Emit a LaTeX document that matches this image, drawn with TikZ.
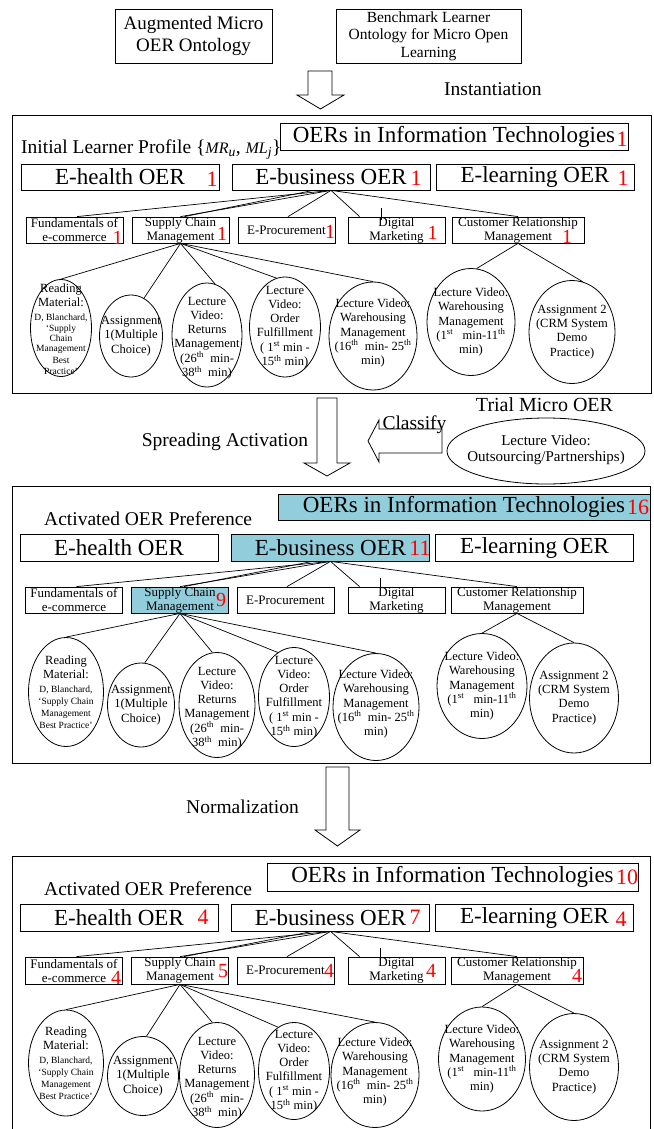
\documentclass[tikz,border=0pt]{standalone}
\usepackage{fontspec}
\setmainfont{Liberation Serif}
\usetikzlibrary{shapes.geometric,calc}
\definecolor{aqua}{RGB}{146,205,220}
\newcommand\rsm{\fontsize{9.5}{10.5}\selectfont}
\begin{document}
\begin{tikzpicture}[x=1pt,y=-1pt,
  bx/.style={draw, line width=0.8pt, inner sep=0pt, align=center},
  lvla/.style={bx, minimum width=198pt, minimum height=26pt, font=\fontsize{23}{26}\selectfont},
  lvlb/.style={bx, minimum width=97pt, minimum height=26pt, font=\fontsize{13}{14}\selectfont},
  oerbox/.style={bx, minimum height=27pt, font=\fontsize{23}{26}\selectfont},
  ell/.style={draw, ellipse, line width=0.8pt, inner sep=0pt},
  etxt/.style={inner sep=0pt, align=center, font=\fontsize{12.5}{14.3}\selectfont},
  rnum/.style={text=red, inner sep=0pt, font=\fontsize{20}{20}\selectfont},
  rbig/.style={text=red, inner sep=0pt, font=\fontsize{22}{22}\selectfont},
  lbl/.style={inner sep=0pt, font=\fontsize{19.5}{22}\selectfont},
  link/.style={line width=0.7pt},
  frame/.style={draw, line width=0.9pt, inner sep=0pt},
  blockarrow/.style={draw, line width=0.8pt, fill=white, line join=miter},
  hl/.style={fill=aqua}]
\useasboundingbox (0,0) rectangle (653,1129);
\fill[white] (0,0) rectangle (653,1129);

% ---------- top ----------
\node[bx, minimum width=157pt, minimum height=54pt, font=\fontsize{19}{22}\selectfont] (aug) at (193.5,36) {Augmented Micro\\OER Ontology};
\node[bx, minimum width=185pt, minimum height=54pt, font=\fontsize{15.5}{17.5}\selectfont] (bench) at (428.5,36) {Benchmark Learner\\Ontology for Micro Open\\Learning};
\draw[blockarrow] (308,71) -- (332,71) -- (332,95) -- (344,95) -- (320.5,109) -- (297,95) -- (308,95) -- cycle;
\node[lbl, anchor=west] (inst) at (444,89) {Instantiation};

% ---------- panel 1 ----------
\node[frame, minimum width=639pt, minimum height=278pt] (panela) at (331.5,254) {};
\node[oerbox, minimum width=348pt] (p1oer) at (454,136.5) {OERs in Information Technologies};
\node[rbig] (p1oern) at (622,139) {1};
\node[lbl, anchor=west] (p1title) at (21,150) {Initial Learner Profile \{{\fontsize{16}{18}\selectfont\itshape MR}\textsubscript{\itshape u}, {\fontsize{16}{18}\selectfont\itshape ML}\textsubscript{\itshape j}\}};
\node[lvla] (p1eh) at (120,177) {E-health OER};
\node[lvla] (p1eb) at (331,177) {E-business OER};
\node[lvla] (p1el) at (535,177) {E-learning OER};
\node[rbig] (p1ehn) at (212,179) {1};
\node[rbig] (p1ebn) at (416,178) {1};
\node[rbig] (p1eln) at (623,178) {1};
\node[lvlb] (p1fund) at (74.5,230) {Fundamentals of\\e-commerce};
\node[lvlb] (p1scm) at (180.5,230) {Supply Chain\\Management};
\node[lvlb] (p1proc) at (286.5,230) {E-Procurement};
\node[lvlb] (p1dig) at (396.5,230) {Digital\\Marketing};
\node[lvlb, minimum width=132pt] (p1crm) at (518,230) {Customer Relationship\\Management};
\node[rnum] (p1fundn) at (117.5,237.5) {1};
\node[rnum] (p1scmn) at (222,234) {1};
\node[rnum] (p1procn) at (330,232) {1};
\node[rnum] (p1dign) at (432.5,233) {1};
\node[rnum] (p1crmn) at (567,237) {1};
\draw[link] (p1eb.south) -- ($(p1fund.north)+(2.5,0)$);
\draw[link] (p1eb.south) -- (p1scm.north);
\draw[link] ($(p1eb.south)+(-18,0)$) -- ($(p1scm.north)+(4,0)$);
\draw[link] (p1eb.south) -- ($(p1proc.north)+(1.5,0)$);
\draw[link] (p1eb.south) -- ($(p1dig.north west)+(12,0)$);
\draw[link] (p1eb.south) -- (p1crm.north);
\coordinate (p1ta) at (381,208);
\coordinate (p1tb) at (381,220);
\draw[link] (p1ta) -- (p1tb);
\node[ell, minimum width=61pt, minimum height=97pt] (p1read) at (61,328) {};
\node[ell, minimum width=63pt, minimum height=82pt] (p1asg) at (131,336) {};
\node[ell, minimum width=70pt, minimum height=104pt] (p1ret) at (207,335) {};
\node[ell, minimum width=71pt, minimum height=100pt] (p1ord) at (285,327) {};
\node[ell, minimum width=88pt, minimum height=108pt] (p1wh) at (373,336) {};
\node[ell, minimum width=88pt, minimum height=107pt] (p1whb) at (471,322) {};
\node[ell, minimum width=86pt, minimum height=103pt] (p1asgb) at (572,332) {};
\node[etxt] (p1readt) at (61,329) {Reading\\Material:\\\rsm D, Blanchard,\\[-4pt]\rsm ‘Supply\\[-4pt]\rsm Chain\\[-4pt]\rsm Management\\[-3pt]\rsm Best\\[-3pt]\rsm Practice’};
\node[etxt] (p1asgt) at (131,336) {Assignment\\1(Multiple\\Choice)};
\node[etxt] (p1rett) at (207,338) {Lecture\\Video:\\Returns\\Management\\(26\textsuperscript{th}\ \ min-\\38\textsuperscript{th}\ \ min)};
\node[etxt] (p1ordt) at (285,327) {Lecture\\Video:\\Order\\Fulfillment\\( 1\textsuperscript{st} min -\\15\textsuperscript{th} min)};
\node[etxt] (p1wht) at (373,333) {Lecture Video:\\Warehousing\\Management\\(16\textsuperscript{th}\ \ min- 25\textsuperscript{th}\\min)};
\node[etxt] (p1whbt) at (471,322) {Lecture Video:\\Warehousing\\Management\\(1\textsuperscript{st}\ \ \ min-11\textsuperscript{th}\\min)};
\node[etxt] (p1asgbt) at (572,332) {Assignment 2\\(CRM System\\Demo\\Practice)};
\draw[link] (p1scm.south) -- (p1read.north);
\draw[link] (p1scm.south) -- (p1asg.71);
\draw[link] (p1scm.south) -- (p1ret.81);
\draw[link] (p1scm.south) -- (p1ord.100);
\draw[link] (p1scm.south) -- (p1wh.north);
\draw[link] (p1crm.south) -- (p1whb.84);
\draw[link] (p1crm.south) -- (p1asgb.78);

% ---------- spreading activation ----------
\draw[blockarrow] (317,398) -- (337,398) -- (337,463) -- (350,463) -- (327,476) -- (304,463) -- (317,463) -- cycle;
\node[lbl] (spread) at (225,442) {Spreading Activation};
\draw[blockarrow] (442,429) -- (442,453) -- (379,453) -- (379,462) -- (368,441) -- (379,420) -- (379,429) -- cycle;
\node[lbl] (classify) at (414.5,425) {Classify};
\node[lbl, font=\fontsize{20}{22}\selectfont] (trial) at (544.5,405) {Trial Micro OER};
\node[ell, minimum width=198pt, minimum height=66pt] (trialell) at (546,451) {};
\node[etxt, font=\fontsize{15}{16.5}\selectfont] (trialt) at (546,450) {Lecture Video:\\Outsourcing/Partnerships)};

% ---------- panel 2 ----------
\node[frame, minimum width=638pt, minimum height=277pt] (panelb) at (331,624.5) {};
\node[oerbox, hl, minimum width=372pt, minimum height=26pt] (p2oer) at (464,507) {OERs in Information Technologies};
\node[rbig] (p2oern) at (638,507) {16};
\node[lbl, anchor=west] (p2title) at (44,519) {Activated OER Preference};
\node[lvla, minimum height=27pt] (p2eh) at (119,547.5) {E-health OER};
\node[lvla, hl, minimum height=27pt] (p2eb) at (330.5,547.5) {E-business OER};
\node[lvla, minimum height=27pt] (p2el) at (534.5,547.5) {E-learning OER};
\node[rbig] (p2ebn) at (420,548) {11};
\node[lvlb] (p2fund) at (74,600) {Fundamentals of\\e-commerce};
\node[lvlb, hl] (p2scm) at (180,600) {Supply Chain\\Management};
\node[lvlb] (p2proc) at (285.5,600) {E-Procurement};
\node[lvlb] (p2dig) at (396.5,600) {Digital\\Marketing};
\node[lvlb, minimum width=132pt] (p2crm) at (517,600) {Customer Relationship\\Management};
\node[rnum] (p2scmn) at (221,600) {9};
\draw[link] (p2eb.south) -- ($(p2fund.north)+(2.5,0)$);
\draw[link] (p2eb.south) -- (p2scm.north);
\draw[link] ($(p2eb.south)+(-18,0)$) -- ($(p2scm.north)+(4,0)$);
\draw[link] (p2eb.south) -- ($(p2proc.north)+(1.5,0)$);
\draw[link] (p2eb.south) -- ($(p2dig.north west)+(12,0)$);
\draw[link] (p2eb.south) -- (p2crm.north);
\coordinate (p2ta) at (380,578);
\coordinate (p2tb) at (380,590);
\draw[link] (p2ta) -- (p2tb);
\node[ell, minimum width=75pt, minimum height=109pt] (p2read) at (66,692) {};
\node[ell, minimum width=67pt, minimum height=84pt] (p2asg) at (141,705) {};
\node[ell, minimum width=76pt, minimum height=105pt] (p2ret) at (217,705) {};
\node[ell, minimum width=71pt, minimum height=99pt] (p2ord) at (294,697) {};
\node[ell, minimum width=86pt, minimum height=107pt] (p2wh) at (376,707) {};
\node[ell, minimum width=90pt, minimum height=105pt] (p2whb) at (482,686) {};
\node[ell, minimum width=89pt, minimum height=110pt] (p2asgb) at (574,698) {};
\node[etxt] (p2readt) at (66,692) {Reading\\Material:\\\rsm D, Blanchard,\\[-2.5pt]\rsm ‘Supply Chain\\[-2.5pt]\rsm Management\\[-2.5pt]\rsm Best Practice’};
\node[etxt] (p2asgt) at (141,705) {Assignment\\1(Multiple\\Choice)};
\node[etxt] (p2rett) at (217,708) {Lecture\\Video:\\Returns\\Management\\(26\textsuperscript{th}\ \ min-\\38\textsuperscript{th}\ \ min)};
\node[etxt] (p2ordt) at (294,697) {Lecture\\Video:\\Order\\Fulfillment\\( 1\textsuperscript{st} min -\\15\textsuperscript{th} min)};
\node[etxt] (p2wht) at (376,704) {Lecture Video:\\Warehousing\\Management\\(16\textsuperscript{th}\ \ min- 25\textsuperscript{th}\\min)};
\node[etxt] (p2whbt) at (482,686) {Lecture Video:\\Warehousing\\Management\\(1\textsuperscript{st}\ \ \ min-11\textsuperscript{th}\\min)};
\node[etxt] (p2asgbt) at (574,698) {Assignment 2\\(CRM System\\Demo\\Practice)};
\draw[link] (p2scm.south) -- (p2read.north);
\draw[link] (p2scm.south) -- (p2asg.85);
\draw[link] (p2scm.south) -- (p2ret.95);
\draw[link] (p2scm.south) -- (p2ord.110);
\draw[link] (p2scm.south) -- (p2wh.north);
\draw[link] (p2crm.south) -- (p2whb.north);
\draw[link] (p2crm.south) -- (p2asgb.north);

% ---------- normalization ----------
\draw[blockarrow] (326,767) -- (349,767) -- (349,830) -- (360,830) -- (337.5,846) -- (315,830) -- (326,830) -- cycle;
\node[lbl] (norm) at (242.5,807) {Normalization};

% ---------- panel 3 ----------
\coordinate (p3bl) at (12,1131);
\coordinate (p3tl) at (12,856);
\coordinate (p3tr) at (650,856);
\coordinate (p3br) at (650,1131);
\draw[line width=0.9pt] (p3bl) -- (p3tl) -- (p3tr) -- (p3br);
\node[oerbox, minimum width=371pt, minimum height=28pt] (p3oer) at (452.5,877) {OERs in Information Technologies};
\node[rbig] (p3oern) at (627,877) {10};
\node[lbl, anchor=west] (p3title) at (44,889) {Activated OER Preference};
\node[lvla, minimum height=27pt] (p3eh) at (119,917.5) {E-health OER};
\node[lvla, minimum height=27pt] (p3eb) at (330.5,917.5) {E-business OER};
\node[lvla, minimum height=27pt] (p3el) at (534.5,917.5) {E-learning OER};
\node[rbig] (p3ehn) at (203,917) {4};
\node[rbig] (p3ebn) at (415,917) {7};
\node[rbig] (p3eln) at (621,919) {4};
\node[lvlb, minimum height=27pt] (p3fund) at (74,970.5) {Fundamentals of\\e-commerce};
\node[lvlb, minimum height=27pt] (p3scm) at (180,970.5) {Supply Chain\\Management};
\node[lvlb, minimum height=27pt] (p3proc) at (285.5,970.5) {E-Procurement};
\node[lvlb, minimum height=27pt] (p3dig) at (396.5,970.5) {Digital\\Marketing};
\node[lvlb, minimum width=132pt, minimum height=27pt] (p3crm) at (517,970.5) {Customer Relationship\\Management};
\node[rnum] (p3fundn) at (116,977.5) {4};
\node[rnum] (p3scmn) at (223,971) {5};
\node[rnum] (p3procn) at (329,971) {4};
\node[rnum] (p3dign) at (431,971) {4};
\node[rnum] (p3crmn) at (577,976) {4};
\draw[link] (p3eb.south) -- ($(p3fund.north)+(2.5,0)$);
\draw[link] (p3eb.south) -- (p3scm.north);
\draw[link] ($(p3eb.south)+(-18,0)$) -- ($(p3scm.north)+(4,0)$);
\draw[link] (p3eb.south) -- ($(p3proc.north)+(1.5,0)$);
\draw[link] (p3eb.south) -- ($(p3dig.north west)+(12,0)$);
\draw[link] (p3eb.south) -- (p3crm.north);
\coordinate (p3ta) at (380,948);
\coordinate (p3tb) at (380,960);
\draw[link] (p3ta) -- (p3tb);
\node[ell, minimum width=75pt, minimum height=106pt] (p3read) at (66,1063) {};
\node[ell, minimum width=71pt, minimum height=79pt] (p3asg) at (143,1076) {};
\node[ell, minimum width=75pt, minimum height=105pt] (p3ret) at (217,1075) {};
\node[ell, minimum width=71pt, minimum height=97pt] (p3ord) at (294,1071) {};
\node[ell, minimum width=88pt, minimum height=105pt] (p3wh) at (375,1075) {};
\node[ell, minimum width=87pt, minimum height=104pt] (p3whb) at (482,1059) {};
\node[ell, minimum width=89pt, minimum height=107pt] (p3asgb) at (574,1067) {};
\node[etxt] (p3readt) at (66,1063) {Reading\\Material:\\\rsm D, Blanchard,\\[-2.5pt]\rsm ‘Supply Chain\\[-2.5pt]\rsm Management\\[-2.5pt]\rsm Best Practice’};
\node[etxt] (p3asgt) at (143,1076) {Assignment\\1(Multiple\\Choice)};
\node[etxt] (p3rett) at (217,1078) {Lecture\\Video:\\Returns\\Management\\(26\textsuperscript{th}\ \ min-\\38\textsuperscript{th}\ \ min)};
\node[etxt] (p3ordt) at (294,1071) {Lecture\\Video:\\Order\\Fulfillment\\( 1\textsuperscript{st} min -\\15\textsuperscript{th} min)};
\node[etxt] (p3wht) at (375,1072) {Lecture Video:\\Warehousing\\Management\\(16\textsuperscript{th}\ \ min- 25\textsuperscript{th}\\min)};
\node[etxt] (p3whbt) at (482,1059) {Lecture Video:\\Warehousing\\Management\\(1\textsuperscript{st}\ \ \ min-11\textsuperscript{th}\\min)};
\node[etxt] (p3asgbt) at (574,1067) {Assignment 2\\(CRM System\\Demo\\Practice)};
\draw[link] (p3scm.south) -- (p3read.north);
\draw[link] (p3scm.south) -- (p3asg.85);
\draw[link] (p3scm.south) -- (p3ret.95);
\draw[link] (p3scm.south) -- (p3ord.110);
\draw[link] (p3scm.south) -- (p3wh.north);
\draw[link] (p3crm.south) -- (p3whb.north);
\draw[link] (p3crm.south) -- (p3asgb.north);
\end{tikzpicture}
\end{document}
